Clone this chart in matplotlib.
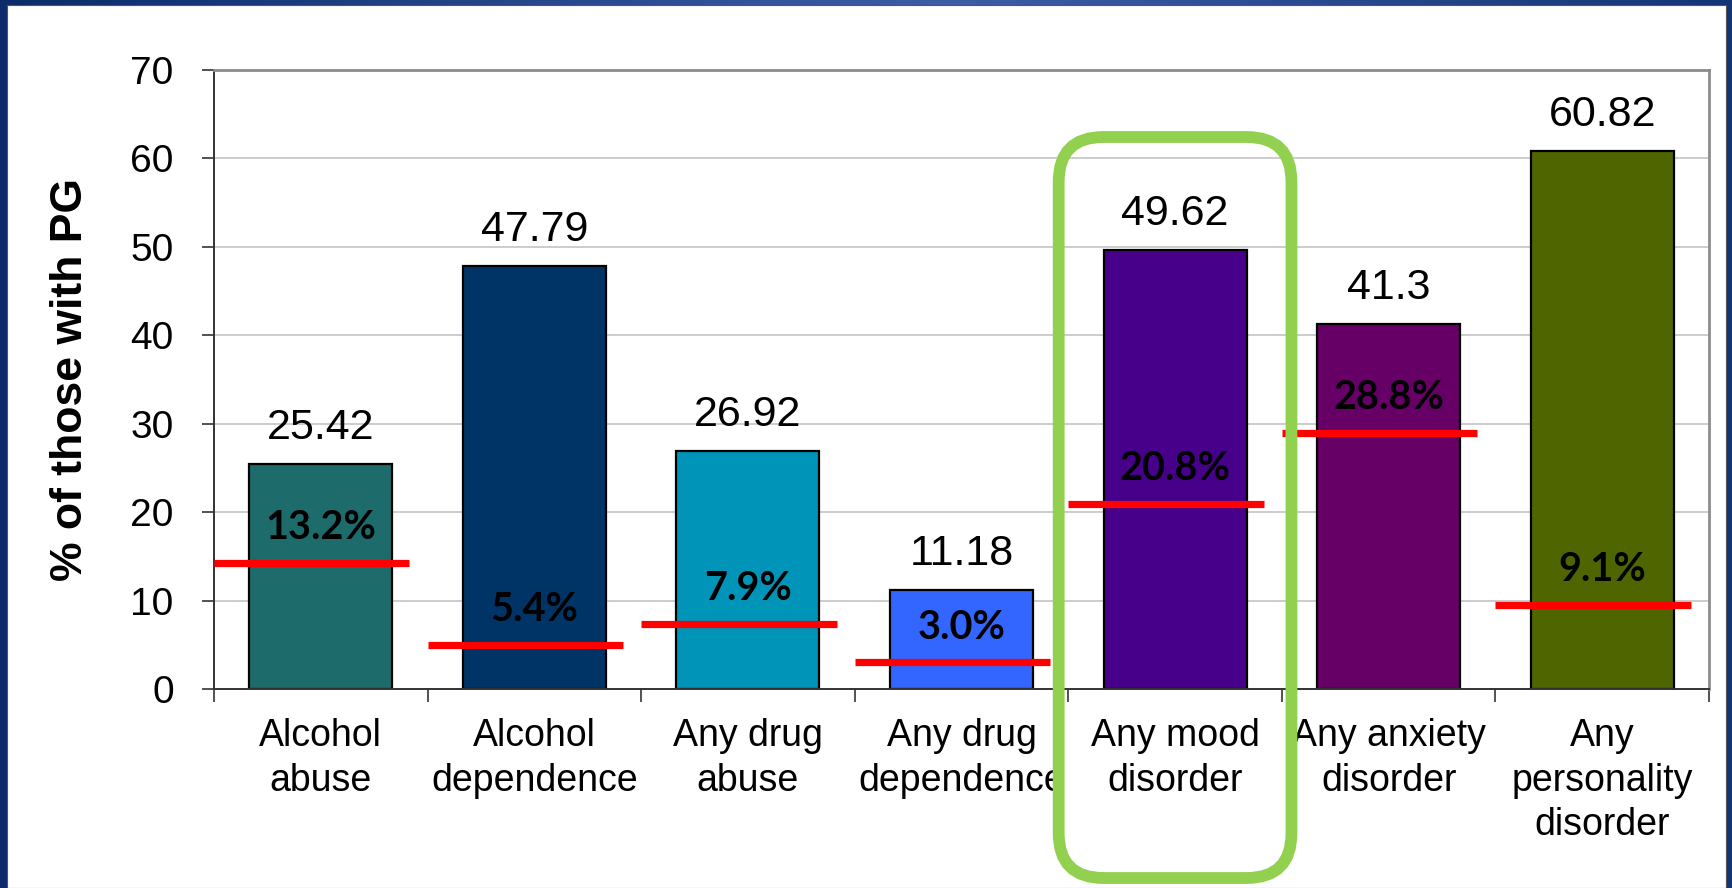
import numpy as np
import matplotlib
matplotlib.use("Agg")
from matplotlib import pyplot as plt
from matplotlib.patches import Rectangle, FancyBboxPatch
from matplotlib.transforms import IdentityTransform

categories = ["Alcohol\nabuse", "Alcohol\ndependence", "Any drug\nabuse", "Any drug\ndependence",
              "Any mood\ndisorder", "Any anxiety\ndisorder", "Any\npersonality\ndisorder"]
pg_values = [25.42, 47.79, 26.92, 11.18, 49.62, 41.3, 60.82]
pg_labels = ["25.42", "47.79", "26.92", "11.18", "49.62", "41.3", "60.82"]
gen_pop = [14.25, 5.0, 7.35, 3.0, 20.9, 29.0, 9.5]
gen_pop_labels = ["13.2%", "5.4%", "7.9%", "3.0%", "20.8%", "28.8%", "9.1%"]
bar_colors = ["#1E6B6B", "#003366", "#0094B8", "#3366FF", "#46008A", "#660066", "#4F6600"]
yticks = [0, 10, 20, 30, 40, 50, 60, 70]

W, H = 1732, 888
fig = plt.figure(figsize=(W / 100, H / 100), dpi=100)

# blue frame with a soft gradient, white slide inside
bg = fig.add_axes([0, 0, 1, 1])
grad = np.linspace(0, 1, 256)
grad = 1 - np.abs(grad - 0.55) * 1.8
bg.imshow(np.vstack([grad, grad]), aspect="auto", extent=[0, 1, 0, 1],
          cmap=matplotlib.colors.LinearSegmentedColormap.from_list("b", ["#0B2B6A", "#3D5EA6"]))
bg.add_patch(Rectangle((7 / W, 0), (W - 13) / W, (H - 5) / H, facecolor="white",
                       edgecolor="#555555", lw=0.8))
bg.set_xlim(0, 1)
bg.set_ylim(0, 1)
bg.axis("off")

ax = fig.add_axes([214 / W, 1 - 689 / H, (1709 - 214) / W, (689 - 70) / H])
x = np.arange(len(categories))

ax.bar(x, pg_values, width=0.67, color=bar_colors, edgecolor="black", linewidth=1.6, zorder=3)
for xi, v, lab in zip(x, pg_values, pg_labels):
    ax.text(xi, v + 4.1, lab, ha="center", va="center", fontsize=31,
            family="Liberation Sans", zorder=5)

for xi, g, lab in zip(x, gen_pop, gen_pop_labels):
    ax.plot([xi - 0.5, xi + 0.415], [g, g], color="#FF0000", lw=5.2,
            solid_capstyle="butt", zorder=4, clip_on=False)
    ax.text(xi, g + 4.0, lab, ha="center", va="center", fontsize=28.5,
            family="Lato", fontweight="bold", zorder=5)

ax.set_xlim(-0.5, len(categories) - 0.5)
ax.set_ylim(0, 70)
ax.set_yticks(yticks)
ax.set_yticklabels([str(t) for t in yticks], fontsize=28, family="Liberation Sans")
ax.set_xticks(x)
ax.set_xticklabels(categories, fontsize=27, family="Liberation Sans", linespacing=1.3)
ax.set_xticks(np.arange(-0.5, len(categories)), minor=True)
ax.tick_params(axis="x", which="major", length=0, pad=21)
ax.tick_params(axis="x", which="minor", length=9, width=1.2, color="#333333", direction="out")
ax.tick_params(axis="y", length=9, width=1.2, color="#333333", direction="out", pad=20)

ax.set_ylabel("% of those with PG", fontsize=32, family="Liberation Sans", fontweight="bold")
ax.yaxis.set_label_coords(-0.082, 0.5)
ax.yaxis.grid(True, color="#C8C8C8", lw=1.3, zorder=0)
ax.set_axisbelow(True)
for side in ["top", "right"]:
    ax.spines[side].set_color("#8C8C8C")
    ax.spines[side].set_linewidth(2)
for side in ["left", "bottom"]:
    ax.spines[side].set_color("#333333")
    ax.spines[side].set_linewidth(1.4)
ax.spines["bottom"].set_zorder(6)

# green highlight round the mood disorder column (pixel coordinates)
mood = categories.index("Any mood\ndisorder")
x0 = ax.transData.transform((mood - 0.545, 0))[0]
x1 = ax.transData.transform((mood + 0.545, 0))[0]
y_top = H - 137
y_bot = H - 878
hl = FancyBboxPatch((x0, y_bot), x1 - x0, y_top - y_bot,
                    boxstyle="round,pad=0,rounding_size=45",
                    facecolor="none", edgecolor="#92D050", lw=8.5,
                    transform=IdentityTransform(), zorder=10)
fig.patches.append(hl)

fig.savefig("out.png", dpi=100)
